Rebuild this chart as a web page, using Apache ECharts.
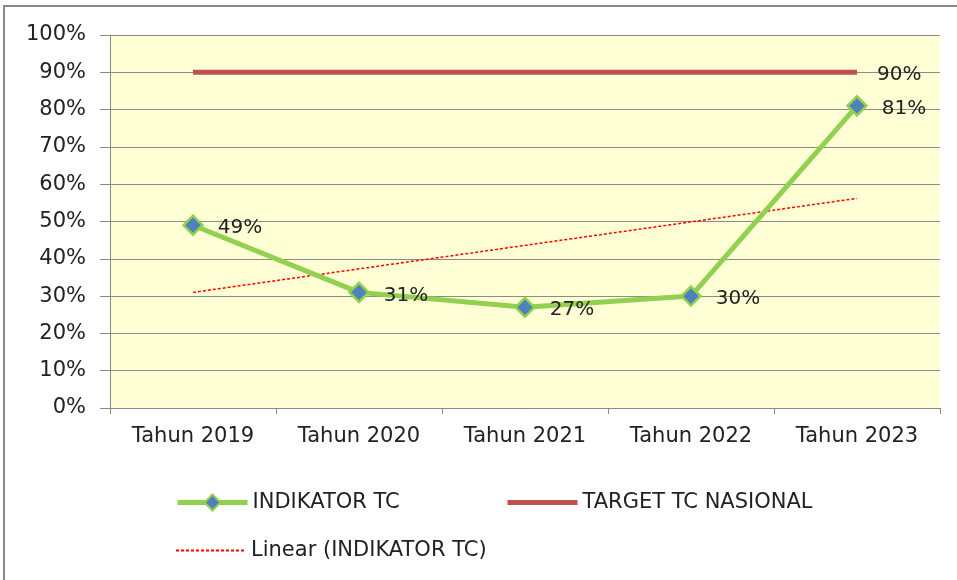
<!DOCTYPE html>
<html>
<head>
<meta charset="utf-8">
<script src="https://cdn.jsdelivr.net/npm/echarts@6/dist/echarts.min.js"></script>
<style>
  html, body { margin: 0; padding: 0; background: #fff; }
  #chart { width: 957px; height: 580px; }
</style>
</head>
<body>
<div id="chart"></div>
<script>
// data (percent)
const years = ['Tahun 2019', 'Tahun 2020', 'Tahun 2021', 'Tahun 2022', 'Tahun 2023']
const indikator = [49, 31, 27, 30, 81]
const target = [90, 90, 90, 90, 90]
// linear trendline end points, the middle is drawn straight across
const trend = [31, null, null, null, 56.2]

const font = 'DejaVu Sans'
const chart = echarts.init(document.getElementById('chart'))

const legendText = { fontFamily: font, fontSize: 21, color: '#222' }

chart.setOption({
  animation: false,
  textStyle: { fontFamily: font },
  graphic: [
    {
      type: 'rect',
      shape: { x: 4, y: 6, width: 1000, height: 1000 },
      style: { fill: 'none', stroke: '#8a8a8a', lineWidth: 2 },
      z: 100
    }
  ],
  grid: {
    left: 110,
    right: 17,
    top: 35,
    bottom: 172,
    show: true,
    backgroundColor: '#ffffd5',
    borderWidth: 0
  },
  legend: [
    {
      left: 170,
      top: 487,
      itemWidth: 70,
      itemHeight: 20,
      lineStyle: { width: 5 },
      textStyle: legendText,
      data: ['INDIKATOR TC']
    },
    {
      left: 500,
      top: 487,
      itemWidth: 70,
      itemHeight: 20,
      itemStyle: { opacity: 0 },
      lineStyle: { width: 5 },
      textStyle: legendText,
      data: ['TARGET TC NASIONAL']
    },
    {
      left: 170,
      top: 535,
      itemWidth: 70,
      itemHeight: 20,
      itemStyle: { opacity: 0 },
      textStyle: legendText,
      data: ['Linear (INDIKATOR TC)']
    }
  ],
  xAxis: {
    type: 'category',
    data: years,
    boundaryGap: true,
    axisLine: { lineStyle: { color: '#8a8a8a', width: 1 } },
    axisTick: { show: true, length: 6, lineStyle: { color: '#8a8a8a' } },
    axisLabel: { fontFamily: font, fontSize: 21, color: '#222', margin: 18 }
  },
  yAxis: {
    type: 'value',
    min: 0,
    max: 100,
    interval: 10,
    axisLine: { show: true, lineStyle: { color: '#8a8a8a', width: 1 } },
    axisTick: { show: true, length: 10, lineStyle: { color: '#8a8a8a' } },
    axisLabel: { fontFamily: font, fontSize: 21, color: '#222', margin: 24, formatter: '{value}%' },
    splitLine: { show: true, lineStyle: { color: '#8c8c8c', width: 1 } }
  },
  series: [
    {
      name: 'TARGET TC NASIONAL',
      type: 'line',
      data: target,
      symbol: 'none',
      itemStyle: { color: '#c0504d' },
      lineStyle: { color: '#c0504d', width: 5 },
      endLabel: {
        show: true,
        distance: 20,
        offset: [0, 2],
        fontFamily: font,
        fontSize: 20,
        color: '#222',
        formatter: '{c}%'
      },
      z: 2
    },
    {
      name: 'Linear (INDIKATOR TC)',
      type: 'line',
      data: trend,
      connectNulls: true,
      symbol: 'none',
      itemStyle: { color: '#ff0000' },
      lineStyle: { color: '#ff0000', width: 1.5, type: [3, 2] },
      z: 3
    },
    {
      name: 'INDIKATOR TC',
      type: 'line',
      data: indikator,
      symbol: 'diamond',
      symbolSize: 19,
      itemStyle: { color: '#4f81bd', borderColor: '#92d050', borderWidth: 2.5 },
      lineStyle: { color: '#92d050', width: 5 },
      label: {
        show: true,
        position: 'right',
        distance: 14,
        offset: [0, 3],
        fontFamily: font,
        fontSize: 20,
        color: '#222',
        formatter: '{c}%'
      },
      z: 4
    }
  ]
})
</script>
</body>
</html>
